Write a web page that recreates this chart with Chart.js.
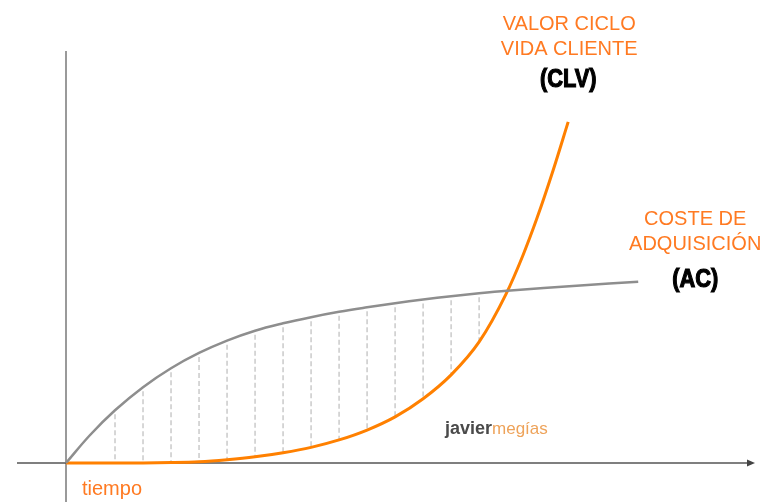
<!DOCTYPE html>
<html>
<head>
<meta charset="utf-8">
<script src="https://cdn.jsdelivr.net/npm/chart.js@4"></script>
<style>
  html, body { margin: 0; padding: 0; background: #fff; }
  #c { display: block; }
</style>
</head>
<body>
<canvas id="c" width="773" height="502"></canvas>
<script>
// tiempo (x) y valor (y)
const acX  = [0, 0.86, 1.75, 2.75, 3.75, 4.75, 5.75, 6.75, 7.75, 8.75, 9.75, 10.75, 11.75, 12.75, 13.75, 14.75, 15.75, 18.36, 20.43];
const acY  = [0, 6.8, 12.8, 18.4, 23.0, 26.7, 29.7, 32.1, 33.9, 35.4, 36.7, 37.8, 38.8, 39.7, 40.5, 41.2, 41.8, 43.1, 44.0];
const clvX = [0, 1.75, 2.75, 3.75, 4.75, 5.75, 6.75, 7.75, 8.75, 9.75, 10.75, 11.75, 12.75, 13.75, 14.75, 15.71, 16.32, 16.82, 17.39, 17.93];
const clvY = [0, 0, 0.02, 0.1, 0.3, 0.8, 1.5, 2.5, 3.8, 5.6, 8.0, 11.2, 15.6, 21.4, 29.4, 41.0, 50.5, 59.5, 71.0, 82.8];
const rayas = [1.75, 2.75, 3.75, 4.75, 5.75, 6.75, 7.75, 8.75, 9.75, 10.75, 11.75, 12.75, 13.75, 14.75];

const tituloCLV = ["VALOR CICLO", "VIDA CLIENTE"];
const siglaCLV = "(CLV)";
const tituloAC = ["COSTE DE", "ADQUISICIÓN"];
const siglaAC = "(AC)";
const ejeX = "tiempo";

const NARANJA = "#ff8000";
const TEXTO_NAR = "#ff7a22";
const GRIS = "#8e8e8e";

function pts(xs, ys) { return xs.map((x, i) => ({ x, y: ys[i] })); }

function sigla(ctx, txt, cx, by) {
  ctx.save();
  ctx.translate(cx, by);
  ctx.scale(0.84, 1);
  ctx.font = "bold 26px 'Liberation Sans', Arial, sans-serif";
  ctx.textAlign = "center";
  ctx.fillStyle = "#000";
  ctx.strokeStyle = "#000";
  ctx.lineWidth = 1.2;
  ctx.fillText(txt, 0, 0);
  ctx.strokeText(txt, 0, 0);
  ctx.restore();
}

const decor = {
  id: "decor",
  beforeDatasetsDraw(chart) {
    const { ctx, scales: { x, y } } = chart;
    const x0 = x.getPixelForValue(0), y0 = y.getPixelForValue(0);
    const ac = chart.getDatasetMeta(0).data;
    const clv = chart.getDatasetMeta(1).data;
    ctx.save();

    // rayado entre curvas
    ctx.strokeStyle = "#cacaca";
    ctx.lineWidth = 1.5;
    ctx.setLineDash([5, 3]);
    for (const t of rayas) {
      const i = acX.indexOf(t), j = clvX.indexOf(t);
      if (i < 0 || j < 0) continue;
      ctx.beginPath();
      ctx.moveTo(ac[i].x, ac[i].y + 4);
      ctx.lineTo(ac[i].x, clv[j].y);
      ctx.stroke();
    }
    ctx.setLineDash([]);

    // eje y
    ctx.strokeStyle = "#9a9a9a";
    ctx.lineWidth = 2;
    ctx.beginPath();
    ctx.moveTo(x0, chart.chartArea.top);
    ctx.lineTo(x0, chart.height);
    ctx.stroke();

    // eje x con flecha
    const xEnd = chart.chartArea.right;
    ctx.strokeStyle = "#555";
    ctx.lineWidth = 1.5;
    ctx.beginPath();
    ctx.moveTo(17, y0);
    ctx.lineTo(xEnd - 4, y0);
    ctx.stroke();
    ctx.fillStyle = "#444";
    ctx.beginPath();
    ctx.moveTo(xEnd, y0);
    ctx.lineTo(xEnd - 8, y0 - 3.5);
    ctx.lineTo(xEnd - 8, y0 + 3.5);
    ctx.closePath();
    ctx.fill();
    ctx.restore();
  },
  afterDatasetsDraw(chart) {
    const { ctx, scales: { x, y } } = chart;
    const x0 = x.getPixelForValue(0), y0 = y.getPixelForValue(0);
    const ac = chart.getDatasetMeta(0).data;
    const clv = chart.getDatasetMeta(1).data;
    const lastAC = ac[ac.length - 1], lastCLV = clv[clv.length - 1];
    ctx.save();
    ctx.textAlign = "center";
    ctx.textBaseline = "alphabetic";

    // CLV
    ctx.fillStyle = TEXTO_NAR;
    ctx.font = "20px 'Liberation Sans', Arial, sans-serif";
    ctx.fillText(tituloCLV[0], lastCLV.x + 1, lastCLV.y - 92);
    ctx.fillText(tituloCLV[1], lastCLV.x + 1, lastCLV.y - 67);
    sigla(ctx, siglaCLV, lastCLV.x, lastCLV.y - 35);

    // AC
    ctx.fillStyle = TEXTO_NAR;
    ctx.font = "20px 'Liberation Sans', Arial, sans-serif";
    ctx.fillText(tituloAC[0], lastAC.x + 57, lastAC.y - 57);
    ctx.fillText(tituloAC[1], lastAC.x + 57, lastAC.y - 32);
    sigla(ctx, siglaAC, lastAC.x + 57, lastAC.y + 5);

    // etiqueta eje
    ctx.textAlign = "left";
    ctx.fillStyle = TEXTO_NAR;
    ctx.font = "20px 'Liberation Sans', Arial, sans-serif";
    ctx.fillText(ejeX, x0 + 16, y0 + 32);

    // marca de agua
    ctx.font = "bold 18px 'Liberation Sans', Arial, sans-serif";
    ctx.fillStyle = "#4a4a4a";
    ctx.fillText("javier", 445, 434);
    const w = ctx.measureText("javier").width;
    ctx.font = "17px 'Liberation Sans', Arial, sans-serif";
    ctx.fillStyle = "#eea35a";
    ctx.fillText("megías", 445 + w, 434);
    ctx.restore();
  }
};

new Chart(document.getElementById("c"), {
  type: "scatter",
  data: {
    datasets: [
      {
        label: "AC",
        data: pts(acX, acY),
        showLine: true,
        borderColor: GRIS,
        borderWidth: 2.5,
        pointRadius: 0,
        tension: 0.4,
        clip: false
      },
      {
        label: "CLV",
        data: pts(clvX, clvY),
        showLine: true,
        borderColor: NARANJA,
        borderWidth: 3,
        pointRadius: 0,
        cubicInterpolationMode: "monotone",
        clip: false
      }
    ]
  },
  options: {
    responsive: false,
    animation: false,
    events: [],
    layout: { padding: { left: 66, right: 18, top: 51, bottom: 39 } },
    plugins: { legend: { display: false }, tooltip: { enabled: false } },
    scales: {
      x: { type: "linear", min: 0, max: 24.6, display: false },
      y: { type: "linear", min: 0, max: 100, display: false }
    }
  },
  plugins: [decor]
});
</script>
</body>
</html>
